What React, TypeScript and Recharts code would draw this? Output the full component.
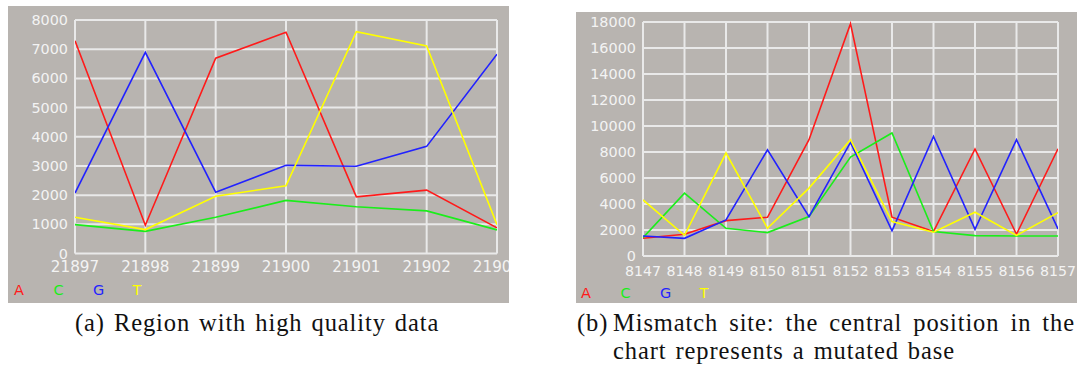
import React from 'react';
import { LineChart, Line, XAxis, YAxis, CartesianGrid, Legend } from 'recharts';

// ---- Chart (a): region with high quality data ----
const POS_A = [21897, 21898, 21899, 21900, 21901, 21902, 21903];
const A_A = [7290, 970, 6690, 7580, 1940, 2170, 880];
const C_A = [990, 760, 1240, 1820, 1600, 1460, 810];
const G_A = [2070, 6890, 2100, 3020, 2990, 3670, 6830];
const T_A = [1240, 820, 1960, 2320, 7600, 7110, 990];
const Y_TICKS_A = [0, 1000, 2000, 3000, 4000, 5000, 6000, 7000, 8000];

// ---- Chart (b): mismatch site ----
const POS_B = [8147, 8148, 8149, 8150, 8151, 8152, 8153, 8154, 8155, 8156, 8157];
const A_B = [1360, 1670, 2720, 2980, 8950, 17870, 2980, 1880, 8230, 1670, 8250];
const C_B = [1410, 4830, 2130, 1800, 3030, 7610, 9460, 1880, 1570, 1540, 1540];
const G_B = [1540, 1360, 2780, 8170, 3030, 8740, 1930, 9200, 2060, 8950, 2080];
const T_B = [4320, 1590, 7920, 2130, 5220, 8950, 2650, 1830, 3370, 1590, 3340];
const Y_TICKS_B = [0, 2000, 4000, 6000, 8000, 10000, 12000, 14000, 16000, 18000];

const SERIES = [
  { key: 'A', color: '#ff1a1a' },
  { key: 'C', color: '#1aee1a' },
  { key: 'G', color: '#2222ff' },
  { key: 'T', color: '#ffff00' },
];

const CAPTION_A = '(a) Region with high quality data';
const CAPTION_B_LABEL = '(b)';
const CAPTION_B_LINE1 = 'Mismatch site: the central position in the';
const CAPTION_B_LINE2 = 'chart represents a mutated base';

const BG = '#b8b4b0';
const GRID = '#e9e9e9';
const TXT = '#f3f3f3';

function rows(pos: number[], a: number[], c: number[], g: number[], t: number[]) {
  return pos.map((p, i) => ({ pos: p, A: a[i], C: c[i], G: g[i], T: t[i] }));
}

const dataA = rows(POS_A, A_A, C_A, G_A, T_A);
const dataB = rows(POS_B, A_B, C_B, G_B, T_B);

const makeLegend = (fontSize: number) => (props: any) => {
  const payload = props.payload || [];
  return (
    <div style={{ position: 'relative', height: 0 }}>
      {payload.map((e: any, i: number) => (
        <span
          key={i}
          style={{
            position: 'absolute',
            left: i * 39.5,
            top: 0,
            color: e.color,
            fontFamily: 'DejaVu Sans',
            fontSize,
            lineHeight: 'normal',
            whiteSpace: 'nowrap',
          }}
        >
          {e.value}
        </span>
      ))}
    </div>
  );
};

interface CP {
  data: any[];
  pos: number[];
  yTicks: number[];
  width: number;
  height: number;
  margin: any;
  xHeight: number;
  xMargin: number;
  xFont: number;
  yFont: number;
  legendLeft: number;
  legendTop: number;
}

function SeqChart(p: CP) {
  return (
    <div style={{ width: p.width, height: p.height, background: BG }}>
      <LineChart width={p.width} height={p.height} data={p.data} margin={p.margin}>
        <CartesianGrid stroke={GRID} strokeWidth={2} />
        <XAxis
          dataKey="pos"
          type="number"
          domain={[p.pos[0], p.pos[p.pos.length - 1]]}
          ticks={p.pos}
          interval={0}
          allowDataOverflow
          axisLine={false}
          tickLine={false}
          tickSize={0}
          tickMargin={p.xMargin}
          height={p.xHeight}
          tick={{ fill: TXT, fontSize: p.xFont, fontFamily: 'DejaVu Sans' }}
        />
        <YAxis
          type="number"
          domain={[p.yTicks[0], p.yTicks[p.yTicks.length - 1]]}
          ticks={p.yTicks}
          interval={0}
          axisLine={false}
          tickLine={false}
          tickSize={0}
          tickMargin={7}
          width={67}
          tick={{ fill: TXT, fontSize: p.yFont, fontFamily: 'DejaVu Sans' }}
        />
        <Legend
          content={makeLegend(14.5)}
          wrapperStyle={{
            left: p.legendLeft,
            top: p.legendTop,
            width: 200,
            height: 0,
            overflow: 'visible',
            margin: 0,
            padding: 0,
          }}
        />
        {SERIES.map((s) => (
          <Line
            key={s.key}
            dataKey={s.key}
            name={s.key}
            type="linear"
            stroke={s.color}
            strokeWidth={1.6}
            dot={false}
            isAnimationActive={false}
          />
        ))}
      </LineChart>
    </div>
  );
}

const captionFont: React.CSSProperties = {
  fontFamily: '"Liberation Serif", serif',
  fontSize: 24.5,
  letterSpacing: 0.9,
  wordSpacing: 2,
  color: '#111',
  lineHeight: '28px',
  whiteSpace: 'nowrap',
  position: 'absolute',
};

export default function App() {
  return (
    <div style={{ position: 'absolute', left: 0, top: 0, width: 1085, height: 370, background: '#fff', overflow: 'hidden' }}>
      <div style={{ position: 'absolute', left: 8, top: 6 }}>
        <SeqChart
          data={dataA}
          pos={POS_A}
          yTicks={Y_TICKS_A}
          width={501}
          height={297}
          margin={{ top: 14, right: 12, left: 0, bottom: 0 }}
          xHeight={49.5}
          xMargin={8}
          xFont={15.2}
          yFont={14.4}
          legendLeft={6}
          legendTop={276}
        />
      </div>
      <div style={{ position: 'absolute', left: 576, top: 12 }}>
        <SeqChart
          data={dataB}
          pos={POS_B}
          yTicks={Y_TICKS_B}
          width={501}
          height={291}
          margin={{ top: 10, right: 19, left: 0, bottom: 0 }}
          xHeight={47}
          xMargin={10}
          xFont={14.2}
          yFont={14.4}
          legendLeft={5}
          legendTop={273}
        />
      </div>
      <div style={{ ...captionFont, left: 75, top: 309 }}>{CAPTION_A}</div>
      <div style={{ ...captionFont, left: 577, top: 309 }}>{CAPTION_B_LABEL}</div>
      <div
        style={{
          ...captionFont,
          left: 613,
          top: 309,
          width: 462,
          whiteSpace: 'normal',
          textAlign: 'justify',
          textAlignLast: 'justify',
          wordSpacing: 0,
        }}
      >
        {CAPTION_B_LINE1}
      </div>
      <div style={{ ...captionFont, left: 613, top: 337 }}>{CAPTION_B_LINE2}</div>
    </div>
  );
}
